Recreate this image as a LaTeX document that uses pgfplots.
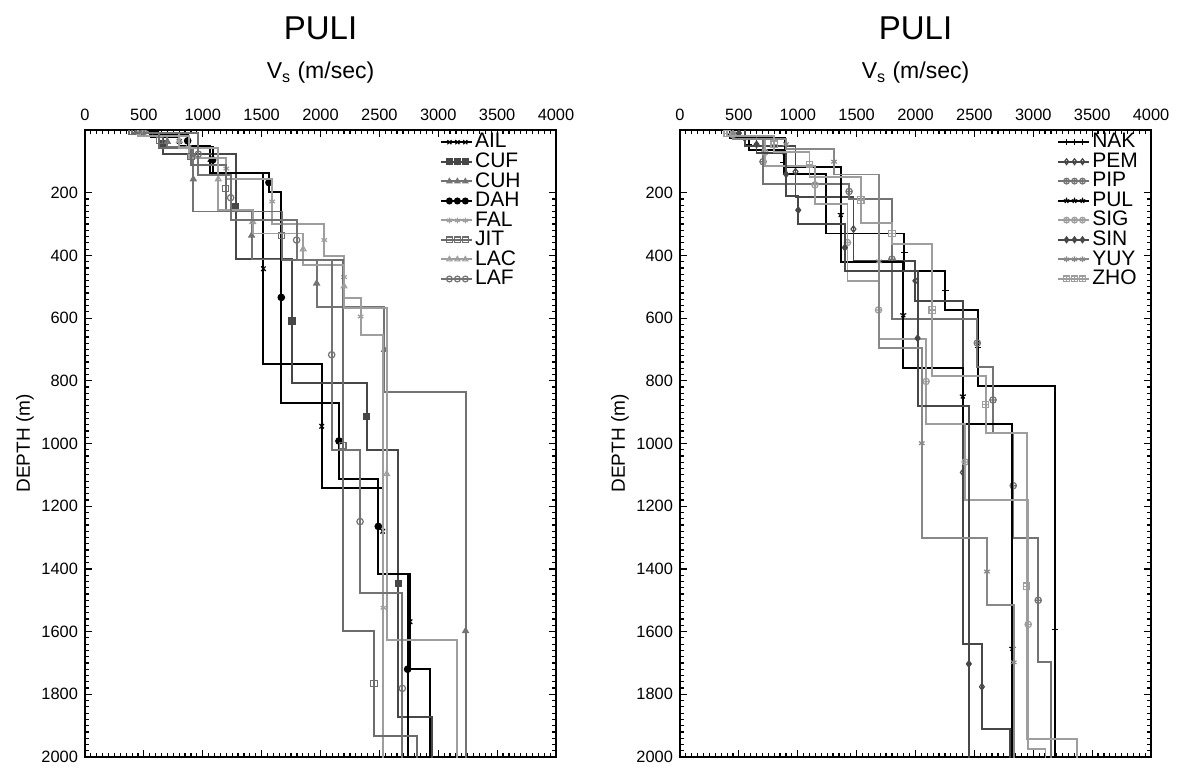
\documentclass[border=0pt]{standalone}
\usepackage{fontspec}
\setmainfont{Liberation Sans}
\usepackage{pgfplots}
\pgfplotsset{compat=1.18}
\usetikzlibrary{plotmarks}

\pgfdeclareplotmark{boxplus}{%
  \pgfpathrectangle{\pgfqpoint{-\pgfplotmarksize}{-\pgfplotmarksize}}{\pgfqpoint{2\pgfplotmarksize}{2\pgfplotmarksize}}%
  \pgfpathmoveto{\pgfqpoint{-\pgfplotmarksize}{0pt}}\pgfpathlineto{\pgfqpoint{\pgfplotmarksize}{0pt}}%
  \pgfpathmoveto{\pgfqpoint{0pt}{-\pgfplotmarksize}}\pgfpathlineto{\pgfqpoint{0pt}{\pgfplotmarksize}}%
  \pgfusepathqstroke}

\definecolor{cA}{gray}{0}
\definecolor{cB}{gray}{0.28}
\definecolor{cC}{gray}{0.45}
\definecolor{cD}{gray}{0.62}

\pgfplotsset{
  vsaxis/.style={
    scale only axis, width=235.5pt, height=313.5pt,
    xmin=0, xmax=4000, ymin=0, ymax=2000, y dir=reverse,
    xtick={0,500,...,4000}, ytick={200,400,...,2000},
    minor x tick num=9, minor y tick num=9,
    tick align=inside, major tick length=3.5pt, minor tick length=1.8pt,
    xticklabel pos=upper,
    axis line style={line width=0.9pt},
    every tick/.style={black, line width=0.6pt},
    tick label style={font=\fontsize{8.2}{9}\selectfont},
    xticklabel style={yshift=1pt},
    /pgf/number format/assume math mode=true,
    /pgf/number format/1000 sep={},
    scaled ticks=false, clip mode=individual, clip marker paths=true,
    ylabel={DEPTH (m)},
    ylabel style={font=\fontsize{9.5}{10}\selectfont, yshift=-3pt},
    legend cell align=left,
    legend style={draw=none, fill=none, anchor=north east,
      font=\fontsize{10.5}{10.5}\selectfont, row sep=-0.2pt, inner sep=0pt,
      nodes={inner xsep=1pt, inner ysep=0.6pt}},
    legend image code/.code={%
      \draw[#1, mark size=1.45pt, mark repeat=1, mark phase=2] plot coordinates {(0cm,0cm)(0.15cm,0cm)(0.29cm,0cm)(0.43cm,0cm)};
      \draw[#1] (0.43cm,0cm)--(0.55cm,0cm);},
  },
  lay/.style={line width=0.95pt, mark repeat=3, mark phase=2, mark size=1.6pt,
    mark options={solid, line width=0.6pt}},
}

\begin{document}
\begin{tikzpicture}[x=1pt,y=1pt]
\path[use as bounding box] (0,0) rectangle (588.5,385.5);

% ---------------- LEFT PANEL ----------------
\begin{axis}[vsaxis, at={(42.5pt,7pt)}, anchor=south west,
  legend style={at={(0.93,0.997)}}]
\addplot[lay, color=cA, mark=x] coordinates {
(560,0)(560,11)(560,22)
(800,22)(800,36)(800,50)
(1062,50)(1062,94)(1062,138)
(1515,138)(1515,442.5)(1515,747)
(2010,747)(2010,945)(2010,1143)
(2528,1143)(2528,1280)(2528,1417)
(2760,1417)(2760,1568.5)(2760,1720)
(2930,1720)(2930,2160)(2930,2600)};
\addlegendentry{AIL}
\addplot[lay, color=cB, mark=square*] coordinates {
(450,0)(450,5)(450,10)
(659,10)(659,43.5)(659,77)
(1279,77)(1279,244.5)(1279,412)
(1756,412)(1756,610)(1756,808)
(2392,808)(2392,914)(2392,1020)
(2661,1020)(2661,1446)(2661,1872)
(2950,1872)(2950,2236)(2950,2600)};
\addlegendentry{CUF}
\addplot[lay, color=cC, mark=triangle*] coordinates {
(600,0)(600,10)(600,20)
(700,20)(700,37)(700,54)
(920,54)(920,157)(920,260)
(1415,260)(1415,336.5)(1415,413)
(1967,413)(1967,489)(1967,565)
(2543,565)(2543,701)(2543,837)
(3232,837)(3232,1598)(3232,2359)};
\addlegendentry{CUH}
\addplot[lay, color=cA, mark=*] coordinates {
(600,0)(600,8)(600,16)
(872,16)(872,34.5)(872,53)
(1084,53)(1084,95.5)(1084,138)
(1562,138)(1562,167.5)(1562,197)
(1667,197)(1667,534)(1667,871)
(2157,871)(2157,992)(2157,1113)
(2491,1113)(2491,1264.5)(2491,1416)
(2740,1416)(2740,1720)(2740,2024)};
\addlegendentry{DAH}
\addplot[lay, color=cD, mark=asterisk] coordinates {
(450,0)(450,10)(450,20)
(880,20)(880,55)(880,90)
(1200,90)(1200,123)(1200,156)
(1590,156)(1590,228)(1590,300)
(2032,300)(2032,351)(2032,402)
(2200,402)(2200,469)(2200,536)
(2341,536)(2341,595)(2341,654)
(2534,654)(2534,1524)(2534,2394)};
\addlegendentry{FAL}
\addplot[lay, color=cB!80!white, mark=square] coordinates {
(400,0)(400,5)(400,10)
(631,10)(631,34)(631,58)
(900,58)(900,85)(900,112)
(1194,112)(1194,186)(1194,260)
(1670,260)(1670,337)(1670,414)
(2189,414)(2189,1006)(2189,1598)
(2455,1598)(2455,1765.5)(2455,1933)
(2817,1933)(2817,2266.5)(2817,2600)};
\addlegendentry{JIT}
\addplot[lay, color=cD, mark=triangle] coordinates {
(500,0)(500,5)(500,10)
(801,10)(801,34)(801,58)
(1132,58)(1132,157)(1132,256)
(1424,256)(1424,293)(1424,330)
(1853,330)(1853,380)(1853,430)
(2200,430)(2200,498.5)(2200,567)
(2562,567)(2562,1097)(2562,1627)
(3156,1627)(3156,2113.5)(3156,2600)};
\addlegendentry{LAC}
\addplot[lay, color=cC, mark=o] coordinates {
(500,0)(500,5)(500,10)
(962,10)(962,77)(962,144)
(1237,144)(1237,216)(1237,288)
(1797,288)(1797,351)(1797,414)
(2095,414)(2095,717)(2095,1020)
(2336,1020)(2336,1249)(2336,1478)
(2695,1478)(2695,1781)(2695,2084)};
\addlegendentry{LAF}
\node[font=\fontsize{16.5}{17}\selectfont] at (axis description cs:0.5,1) [yshift=51pt] {PULI};
\node[font=\fontsize{11.5}{12}\selectfont] at (axis description cs:0.5,1) [yshift=28.5pt] {V\textsubscript{s} (m/sec)};
\end{axis}

% ---------------- RIGHT PANEL ----------------
\begin{axis}[vsaxis, at={(340pt,7pt)}, anchor=south west,
  legend style={at={(0.977,0.997)}}]
\addplot[lay, color=cA, mark=+] coordinates {
(420,0)(420,12.5)(420,25)
(583,25)(583,45)(583,65)
(880,65)(880,102.5)(880,140)
(1237,140)(1237,235)(1237,330)
(1905,330)(1905,390)(1905,450)
(2254,450)(2254,512)(2254,574)
(2530,574)(2530,695)(2530,816)
(3184,816)(3184,1593)(3184,2370)};
\addlegendentry{NAK}
\addplot[lay, color=cB, mark=diamond] coordinates {
(550,0)(550,26)(550,52)
(981,52)(981,133)(981,214)
(1473,214)(1473,316)(1473,418)
(1999,418)(1999,481)(1999,544)
(2402,544)(2402,1092)(2402,1640)
(2564,1640)(2564,1776)(2564,1912)
(2806,1912)(2806,2256)(2806,2600)};
\addlegendentry{PEM}
\addplot[lay, color=cC, mark=oplus] coordinates {
(450,0)(450,15)(450,30)
(705,30)(705,101)(705,172)
(1436,172)(1436,196)(1436,220)
(1800,220)(1800,412)(1800,604)
(2525,604)(2525,679.5)(2525,755)
(2658,755)(2658,861)(2658,967)
(2830,967)(2830,1134.5)(2830,1302)
(3042,1302)(3042,1500)(3042,1698)
(3147,1698)(3147,2149)(3147,2600)};
\addlegendentry{PIP}
\addplot[lay, color=cA, mark=star] coordinates {
(450,0)(450,13)(450,26)
(890,26)(890,72)(890,118)
(1365,118)(1365,269)(1365,420)
(1896,420)(1896,589)(1896,758)
(2402,758)(2402,848)(2402,938)
(2823,938)(2823,1653)(2823,2368)};
\addlegendentry{PUL}
\addplot[lay, color=cD, mark=oplus] coordinates {
(450,0)(450,14)(450,28)
(720,28)(720,71)(720,114)
(1146,114)(1146,175)(1146,236)
(1422,236)(1422,359)(1422,482)
(1686,482)(1686,574)(1686,666)
(2090,666)(2090,802)(2090,938)
(2422,938)(2422,1059)(2422,1180)
(2957,1180)(2957,1577)(2957,1974)
(3104,1974)(3104,2287)(3104,2600)};
\addlegendentry{SIG}
\addplot[lay, color=cB, mark=diamond*] coordinates {
(500,0)(500,10)(500,20)
(650,20)(650,46)(650,72)
(901,72)(901,141)(901,210)
(1004,210)(1004,255.5)(1004,301)
(1400,301)(1400,375)(1400,449)
(2018,449)(2018,664)(2018,879)
(2453,879)(2453,1703)(2453,2527)};
\addlegendentry{SIN}
\addplot[lay, color=cC!85!white, mark=asterisk] coordinates {
(450,0)(450,15)(450,30)
(900,30)(900,45)(900,60)
(1308,60)(1308,101)(1308,142)
(1690,142)(1690,419)(1690,696)
(2053,696)(2053,999)(2053,1302)
(2607,1302)(2607,1408.5)(2607,1515)
(2834,1515)(2834,1698)(2834,1881)
(2834,1881)(2834,2240)(2834,2600)};
\addlegendentry{YUY}
\addplot[lay, color=cD, mark=boxplus] coordinates {
(400,0)(400,10)(400,20)
(800,20)(800,45)(800,70)
(1100,70)(1100,110)(1100,150)
(1536,150)(1536,223)(1536,296)
(1800,296)(1800,330)(1800,364)
(2141,364)(2141,574)(2141,784)
(2596,784)(2596,875.5)(2596,967)
(2943,967)(2943,1455)(2943,1943)
(3369,1943)(3369,2271.5)(3369,2600)};
\addlegendentry{ZHO}
\node[font=\fontsize{16.5}{17}\selectfont] at (axis description cs:0.5,1) [yshift=51pt] {PULI};
\node[font=\fontsize{11.5}{12}\selectfont] at (axis description cs:0.5,1) [yshift=28.5pt] {V\textsubscript{s} (m/sec)};
\end{axis}
\end{tikzpicture}
\end{document}
